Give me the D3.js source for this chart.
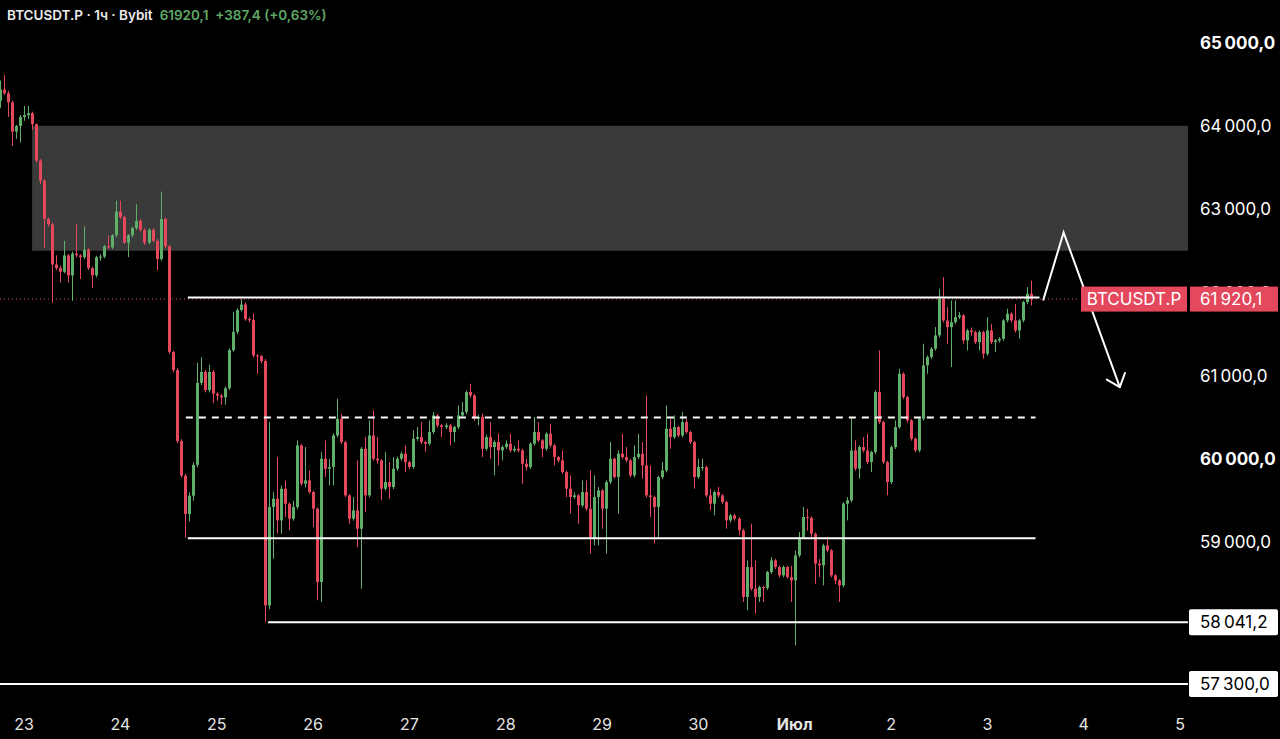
<!DOCTYPE html>
<html>
<head>
<meta charset="utf-8">
<script src="https://cdn.jsdelivr.net/npm/d3@7"></script>
<style>
html, body { margin: 0; padding: 0; background: #000; overflow: hidden; }
svg { display: block; }
</style>
</head>
<body>
<script>
// hourly BTCUSDT.P candles (first candle 22 Jun 18:00)
var opens = [
64303,64434,64391,64281,63931,63997,64106,64128,64150,64019,
63582,63341,62882,62817,62336,62292,62248,62445,62205,62467,
62445,62423,62511,62292,62205,62423,62430,62554,62540,62686,
62970,62904,62598,62686,62773,62860,62751,62598,62751,62620,
62401,62882,62554,61286,61068,60215,59800,59341,59560,59931,
60915,61046,60827,61046,60784,60762,60740,60849,61308,61527,
61789,61855,61680,61670,61243,61235,61177,58244,59424,59524,
59264,59644,59464,59284,59424,60164,59704,59744,59604,59404,
58524,60004,59884,59904,60284,60484,60204,59564,59284,59384,
59164,60124,59564,60284,60004,59984,59644,59724,59664,59884,
60004,60064,59964,59904,60244,60264,60204,60184,60324,60524,
60404,60384,60404,60324,60384,60524,60564,60804,60764,60484,
60504,60124,60264,60144,60204,60104,60144,60184,60104,60124,
60104,59944,59904,60184,60324,60224,60124,60304,60164,60024,
59984,59844,59644,59544,59564,59444,59604,59404,59044,59544,
59624,59404,59724,60004,59784,60064,60024,59984,59804,60024,
60064,59924,59564,59544,59424,59784,59864,60364,60264,60384,
60284,60444,60324,60204,59784,59904,59904,59564,59464,59604,
59564,59484,59264,59324,59284,59144,58344,58704,58444,58344,
58464,58454,58644,58784,58704,58604,58704,58584,58544,58844,
59064,59304,59294,59104,58744,58724,58964,58904,58604,58544,
58484,59464,59504,60104,59884,60144,60104,59964,60084,60804,
60444,59964,59724,60144,60384,61024,60744,60464,60244,60104,
60484,61124,61224,61324,61484,61924,61664,61584,61644,61704,
61724,61424,61544,61524,61404,61524,61264,61544,61404,61424,
61444,61664,61744,61664,61544,61664,61884,61984
];
var highs = [
64544,64609,64420,64303,64010,64130,64238,64238,64170,64030,
63600,63360,62900,62840,62445,62320,62620,62460,62490,62817,
62460,62795,62530,62310,62440,62460,62570,62686,62700,63101,
63101,62920,62700,62790,63057,62880,62770,62770,62770,62640,
63210,62900,62570,61300,61090,60240,59820,59600,59960,61155,
61221,61070,61133,61070,60800,60780,60870,61330,61767,61810,
61920,61880,61700,61745,61260,61250,61200,60444,59604,60024,
59684,59744,59480,59500,60224,60180,60144,59864,59620,59420,
60084,60224,60000,60310,60724,60544,60220,59580,59544,59984,
60144,60264,60464,60584,60264,60000,60084,59964,60024,60030,
60090,60164,59980,60344,60384,60444,60220,60464,60564,60540,
60420,60430,60420,60400,60644,60684,60820,60904,60780,60530,
60544,60290,60444,60224,60304,60164,60224,60304,60160,60224,
60124,60000,60200,60504,60444,60240,60320,60424,60180,60040,
60104,59860,59804,59600,59580,59744,59744,59864,59804,59664,
59640,59744,60204,60020,60104,60304,60144,60000,60164,60304,
60204,60764,59924,59560,59800,59964,60644,60484,60524,60400,
60564,60484,60340,60220,60004,60004,59920,59644,59620,59664,
59580,59500,59340,59340,59300,59164,58784,59224,58784,58480,
58480,58660,58824,58800,58720,58724,58720,58720,58900,59124,
59424,59404,59310,59120,58800,58984,59064,58920,58620,58560,
59484,59544,60504,60224,60164,60264,60304,60100,60824,61304,
60460,59980,60164,60464,61084,61040,60760,60480,60260,60500,
61384,61244,61344,61584,62044,62184,61824,61904,61904,61764,
61740,61564,61580,61540,61544,61540,61704,61624,61440,61464,
61680,61804,61760,61864,61680,61900,62064,62144
];
var lows = [
64216,64370,64106,63757,63844,63800,64060,64080,63953,63560,
63300,62532,62790,61877,62270,62117,62230,62117,61898,62420,
62161,62400,62270,62052,62180,62380,62410,62520,62520,62660,
62880,62580,62423,62660,62750,62730,62570,62580,62600,62270,
62380,62530,61260,61040,60190,59780,59056,59253,59500,59900,
60890,60800,60800,60674,60700,60652,60652,60830,61290,61500,
61770,61660,61640,61220,61024,61150,58041.2,58200,58804,59104,
59104,59304,59144,59260,59400,59680,59660,59584,59184,58304,
58284,59784,59684,59684,60260,60180,59544,59224,59260,58944,
58444,59364,59540,59980,59944,59504,59620,59524,59640,59860,
59980,59844,59880,59880,60220,60180,60084,60160,60300,60380,
60264,60360,60164,60204,60360,60500,60540,60740,60460,60404,
60024,60100,60004,59804,59924,59984,60120,60080,60084,60080,
59704,59864,59880,60160,60200,60024,60100,60140,59924,59960,
59820,59544,59344,59520,59224,59420,59380,58864,58964,58964,
59164,58864,59700,59764,59344,60000,59960,59780,59780,60000,
59764,59540,59304,58984,59064,59760,59840,60124,60240,60260,
60260,60300,60180,59644,59760,59860,59540,59384,59324,59540,
59460,59164,59240,59260,59084,58284,58184,58420,58144,58284,
58284,58430,58620,58680,58580,58580,58564,58284,57764,58820,
59040,59140,59064,58504,58584,58484,58880,58580,58500,58284,
58460,59264,59480,59860,59764,60080,59940,59844,60060,60420,
59940,59564,59700,60120,60360,60720,60440,60220,60084,60080,
60460,61024,61200,61300,61460,61640,61384,61104,61620,61680,
61384,61304,61480,61380,61304,61204,61240,61380,61284,61400,
61420,61640,61640,61520,61444,61640,61860,61844
];
var closes = [
64434,64391,64281,63931,63997,64106,64128,64150,64019,63582,
63341,62882,62817,62336,62292,62248,62445,62205,62467,62445,
62423,62511,62292,62205,62423,62430,62554,62540,62686,62970,
62904,62598,62686,62773,62860,62751,62598,62751,62620,62401,
62882,62554,61286,61068,60215,59800,59341,59560,59931,60915,
61046,60827,61046,60784,60762,60740,60849,61308,61527,61789,
61855,61680,61670,61243,61235,61177,58244,59424,59524,59264,
59644,59464,59284,59424,60164,59704,59744,59604,59404,58524,
60004,59884,59904,60284,60484,60204,59564,59284,59384,59164,
60124,59564,60284,60004,59984,59644,59724,59664,59884,60004,
60064,59964,59904,60244,60264,60204,60184,60324,60524,60404,
60384,60404,60324,60384,60524,60564,60804,60764,60484,60504,
60124,60264,60144,60204,60104,60144,60184,60104,60124,60104,
59944,59904,60184,60324,60224,60124,60304,60164,60024,59984,
59844,59644,59544,59564,59444,59604,59404,59044,59544,59624,
59404,59724,60004,59784,60064,60024,59984,59804,60024,60064,
59924,59564,59544,59424,59784,59864,60364,60264,60384,60284,
60444,60324,60204,59784,59904,59904,59564,59464,59604,59564,
59484,59264,59324,59284,59144,58344,58704,58444,58344,58464,
58454,58644,58784,58704,58604,58704,58584,58544,58844,59064,
59304,59294,59104,58744,58724,58964,58904,58604,58544,58484,
59464,59504,60104,59884,60144,60104,59964,60084,60804,60444,
59964,59724,60144,60384,61024,60744,60464,60244,60104,60484,
61124,61224,61324,61484,61924,61664,61584,61644,61704,61724,
61424,61544,61524,61404,61524,61264,61544,61404,61424,61444,
61664,61744,61664,61544,61664,61884,61984,61920.1
];

var lastPrice = 61920.1;
var symbol = "BTCUSDT.P";
var headerTitle = "BTCUSDT.P · 1ч · Bybit";
var headerQuote = "61920,1  +387,4 (+0,63%)";

// axes
var priceTicks = [59000, 60000, 61000, 62000, 63000, 64000, 65000];
var boldTicks = [60000, 65000];
var dayLabels = ["23","24","25","26","27","28","29","30","Июл","2","3","4","5"];

// drawings (hours after first candle, prices)
var zoneHours = [8, null];
var zonePrices = [62500, 64000];
var levelPrices = [61940, 60500, 59050, 58041.2, 57300];
var levelFrom = [46.8, 46.3, 46.8, 66.8, -1];
var levelTo = [259.0, 258.0, 258.0, null, null];
var levelDashed = [false, true, false, false, false];
var levelTagged = [false, false, false, true, true];
var arrowHours = [259.9, 265.0, 279.0];
var arrowPrices = [61904, 62720, 60864];

var W = 1280, H = 739;
var plotRight = 1188;
var t0 = new Date(2024, 5, 22, 18);

var x = d3.scaleTime()
	.domain([t0, new Date(2024, 6, 5)])
	.range([0, 1180]);
var y = d3.scaleLinear()
	.domain([57300, 65000])
	.range([684, 42.5]);

var hourToDate = function(h){ return new Date(t0.getTime() + h * 3600000); };
var fmt = d3.formatLocale({decimal: ",", thousands: "\u2009", grouping: [3], currency: ["", ""]}).format(",.1f");

var green = "#5fae6a", red = "#e4485c";

var svg = d3.select("body").append("svg")
	.attr("width", W)
	.attr("height", H)
	.style("font-family", "Inter, Roboto, 'DejaVu Sans', sans-serif");

svg.append("rect").attr("width", W).attr("height", H).attr("fill", "#000");

// supply zone
svg.append("rect")
	.attr("x", x(hourToDate(zoneHours[0])))
	.attr("y", y(zonePrices[1]))
	.attr("width", plotRight - x(hourToDate(zoneHours[0])))
	.attr("height", y(zonePrices[0]) - y(zonePrices[1]))
	.attr("fill", "#3a3a3a");

// last price dotted line
svg.append("line")
	.attr("x1", 0).attr("x2", 1080)
	.attr("y1", y(lastPrice)).attr("y2", y(lastPrice))
	.attr("stroke", red)
	.attr("stroke-width", 1)
	.attr("stroke-dasharray", "1,3");

// candles
var candles = closes.map(function(c, i){
	return {t: hourToDate(i), o: opens[i], h: highs[i], l: lows[i], c: c};
});
var g = svg.append("g");
g.selectAll("line.wick").data(candles).enter().append("line")
	.attr("x1", function(d){ return Math.round(x(d.t)) + 0.5; })
	.attr("x2", function(d){ return Math.round(x(d.t)) + 0.5; })
	.attr("y1", function(d){ return y(d.h); })
	.attr("y2", function(d){ return y(d.l); })
	.attr("stroke", function(d){ return d.c >= d.o ? green : red; })
	.attr("stroke-width", 1);
g.selectAll("rect.body").data(candles).enter().append("rect")
	.attr("x", function(d){ return Math.round(x(d.t)) - 1; })
	.attr("width", 3)
	.attr("y", function(d){ return y(Math.max(d.o, d.c)); })
	.attr("height", function(d){ return Math.max(1, Math.abs(y(d.o) - y(d.c))); })
	.attr("fill", function(d){ return d.c >= d.o ? green : red; });

// horizontal levels
levelPrices.forEach(function(p, i){
	var x1 = levelFrom[i] < 0 ? 0 : x(hourToDate(levelFrom[i]));
	var x2 = levelTo[i] === null ? plotRight : x(hourToDate(levelTo[i]));
	svg.append("line")
		.attr("x1", x1).attr("x2", x2)
		.attr("y1", y(p)).attr("y2", y(p))
		.attr("stroke", "#fff")
		.attr("stroke-width", 2)
		.attr("stroke-dasharray", levelDashed[i] ? "7,6" : null);
});

// arrow
var pts = arrowHours.map(function(h, i){ return [x(hourToDate(h)), y(arrowPrices[i])]; });
svg.append("path")
	.attr("d", d3.line()(pts))
	.attr("fill", "none")
	.attr("stroke", "#fff")
	.attr("stroke-width", 2)
	.attr("stroke-linejoin", "miter");
var tip = pts[2], prev = pts[1];
var ang = Math.atan2(prev[1] - tip[1], prev[0] - tip[0]);
[-0.7, 0.7].forEach(function(da){
	svg.append("line")
		.attr("x1", tip[0]).attr("y1", tip[1])
		.attr("x2", tip[0] + 15 * Math.cos(ang + da))
		.attr("y2", tip[1] + 15 * Math.sin(ang + da))
		.attr("stroke", "#fff")
		.attr("stroke-width", 2)
		.attr("stroke-linecap", "round");
});

// price axis
svg.selectAll("text.ytick").data(priceTicks).enter().append("text")
	.attr("x", 1200)
	.attr("y", function(d){ return y(d); })
	.attr("dy", "0.36em")
	.attr("fill", "#fff")
	.attr("font-size", 17)
	.attr("font-weight", function(d){ return boldTicks.indexOf(d) >= 0 ? 700 : 400; })
	.text(function(d){ return fmt(d); });

// level tags
levelPrices.forEach(function(p, i){
	if(!levelTagged[i]) return;
	svg.append("rect")
		.attr("x", 1189).attr("y", y(p) - 13)
		.attr("width", 89).attr("height", 26)
		.attr("rx", 2)
		.attr("fill", "#fff");
	svg.append("text")
		.attr("x", 1200).attr("y", y(p))
		.attr("dy", "0.36em")
		.attr("fill", "#000")
		.attr("font-size", 17)
		.text(fmt(p));
});

// last price tags
svg.append("rect")
	.attr("x", 1081).attr("y", y(lastPrice) - 12.5)
	.attr("width", 106).attr("height", 25)
	.attr("fill", red);
svg.append("text")
	.attr("x", 1134).attr("y", y(lastPrice))
	.attr("dy", "0.36em")
	.attr("text-anchor", "middle")
	.attr("fill", "#fff")
	.attr("font-size", 17)
	.text(symbol);
svg.append("rect")
	.attr("x", 1190).attr("y", y(lastPrice) - 12.5)
	.attr("width", 88).attr("height", 25)
	.attr("fill", red);
svg.append("text")
	.attr("x", 1200).attr("y", y(lastPrice))
	.attr("dy", "0.36em")
	.attr("fill", "#fff")
	.attr("font-size", 17)
	.text(fmt(lastPrice));

// time axis
var days = d3.timeDay.range(new Date(2024, 5, 23), new Date(2024, 6, 6));
svg.selectAll("text.xtick").data(days).enter().append("text")
	.attr("x", function(d){ return x(d); })
	.attr("y", 730)
	.attr("text-anchor", "middle")
	.attr("fill", "#e6e6e6")
	.attr("font-size", 16)
	.attr("font-weight", function(d){ return d.getDate() === 1 ? 700 : 400; })
	.text(function(d, i){ return dayLabels[i]; });

// header
var head = svg.append("text")
	.attr("x", 7).attr("y", 20)
	.attr("font-size", 13.5)
	.attr("font-weight", 600);
head.append("tspan").attr("fill", "#ececec").text(headerTitle);
head.append("tspan").attr("fill", "#5fa866").attr("dx", 7).attr("xml:space", "preserve").text(headerQuote);
</script>
</body>
</html>
